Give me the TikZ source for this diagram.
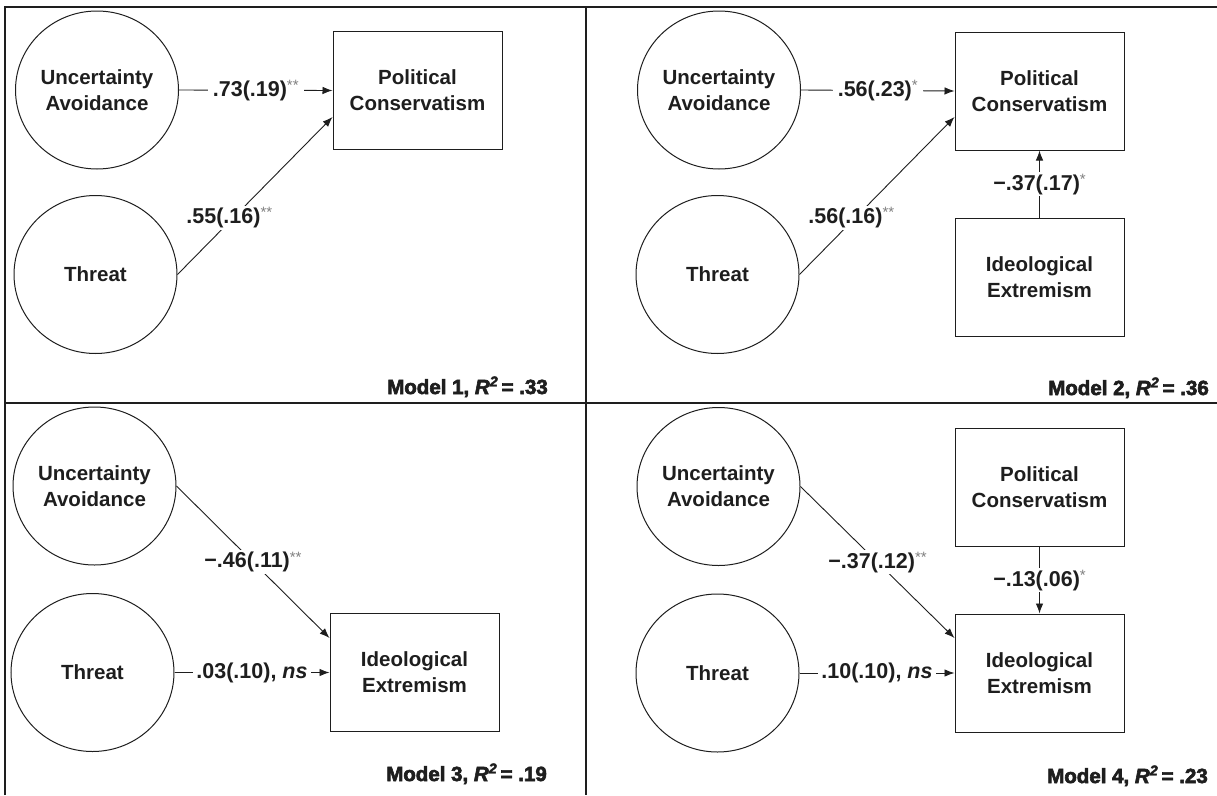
\documentclass[tikz,border=0pt]{standalone}
\usepackage{fontspec}
\setmainfont{Liberation Sans}
\newfontfamily\heavyfam[FakeBold=3]{Liberation Sans}
\usetikzlibrary{shapes.geometric,arrows.meta}
\definecolor{ink}{HTML}{1E1E1E}
\newcommand\nodefont{\fontsize{20.5}{26}\selectfont\bfseries}
\newcommand\coeffont{\fontsize{21.5}{26}\selectfont\bfseries}
\newcommand\heavyfont{\fontsize{20.5}{24}\selectfont\heavyfam\bfseries}
\newcommand\sig[1]{\raisebox{0.5ex}{\fontsize{15}{15}\selectfont\mdseries\color{gray}#1}}
\tikzset{
  lat/.style={ellipse, draw=ink, line width=1pt, minimum width=163pt, minimum height=158pt, inner sep=0pt, align=center, font=\nodefont, text=ink},
  obs/.style={rectangle, draw=ink, line width=1pt, minimum width=169pt, minimum height=118pt, align=center, font=\nodefont, text=ink},
  conn/.style={draw=ink, line width=0.9pt, -{Latex[length=10pt,width=7.5pt]}},
  coef/.style={fill=white, inner xsep=5pt, inner ysep=2pt, font=\coeffont, text=ink},
  mlabel/.style={anchor=base east, inner sep=0pt, font=\heavyfont, text=ink},
  frame/.style={draw=ink, line width=2pt}
}
\begin{document}
\begin{tikzpicture}[x=1pt,y=-1pt]
\useasboundingbox (0,0) rectangle (1217,795);
\fill[white] (0,0) rectangle (1217,795);
% frame
\draw[frame] (5,795) -- (5,7) -- (1217,7);
\draw[frame] (586,7) -- (586,795);
\draw[frame] (5,403) -- (1217,403);

% ---------- Model 1 ----------
\node[lat] (ua1) at (97,90) {Uncertainty\\Avoidance};
\node[lat] (t1) at (95.5,274.5) {Threat};
\node[obs] (pc1) at (417.5,90.5) {Political\\Conservatism};
\draw[conn] (ua1.east) -- node[coef] {.73(.19)\sig{**}} (pc1.west);
\draw[conn] (t1.east) -- node[coef, pos=0.36, xshift=-4pt] {.55(.16)\sig{**}} ([yshift=-26.5pt]pc1.west);
\node[mlabel] (m1) at (548,394) {Model 1, \textit{R\textsuperscript{2}}\,= .33};

% ---------- Model 2 ----------
\node[lat] (ua2) at (719,90) {Uncertainty\\Avoidance};
\node[lat] (t2) at (717.5,274.5) {Threat};
\node[obs] (pc2) at (1039.5,91) {Political\\Conservatism};
\node[obs] (ie2) at (1039.5,277.5) {Ideological\\Extremism};
\draw[conn] (ua2.east) -- node[coef] {.56(.23)\sig{*}} (pc2.west);
\draw[conn] (t2.east) -- node[coef, pos=0.36, xshift=-4pt] {.56(.16)\sig{**}} ([yshift=-26pt]pc2.west);
\draw[conn] (ie2.north) -- node[coef, inner xsep=2pt] {−.37(.17)\sig{*}} (pc2.south);
\node[mlabel] (m2) at (1209,395) {Model 2, \textit{R\textsuperscript{2}}\,= .36};

% ---------- Model 3 ----------
\node[lat] (ua3) at (94.5,486) {Uncertainty\\Avoidance};
\node[lat] (t3) at (92.5,672.5) {Threat};
\node[obs] (ie3) at (414.5,672.5) {Ideological\\Extremism};
\draw[conn] (ua3.east) -- node[coef, inner xsep=2pt] {−.46(.11)\sig{**}} ([yshift=34.5pt]ie3.west);
\draw[conn] (t3.east) -- node[coef, inner xsep=3pt] {.03(.10), \textit{ns}} (ie3.west);
\node[mlabel] (m3) at (547,781) {Model 3, \textit{R\textsuperscript{2}}\,= .19};

% ---------- Model 4 ----------
\node[lat] (ua4) at (718.5,486.5) {Uncertainty\\Avoidance};
\node[lat] (t4) at (717.5,673) {Threat};
\node[obs] (pc4) at (1039.5,487.5) {Political\\Conservatism};
\node[obs] (ie4) at (1039.5,673) {Ideological\\Extremism};
\draw[conn] (ua4.east) -- node[coef, inner xsep=2pt] {−.37(.12)\sig{**}} ([yshift=35pt]ie4.west);
\draw[conn] (t4.east) -- node[coef, inner xsep=3pt] {.10(.10), \textit{ns}} (ie4.west);
\draw[conn] (pc4.south) -- node[coef, inner xsep=2pt] {−.13(.06)\sig{*}} (ie4.north);
\node[mlabel] (m4) at (1208,783) {Model 4, \textit{R\textsuperscript{2}}\,= .23};
\end{tikzpicture}
\end{document}
